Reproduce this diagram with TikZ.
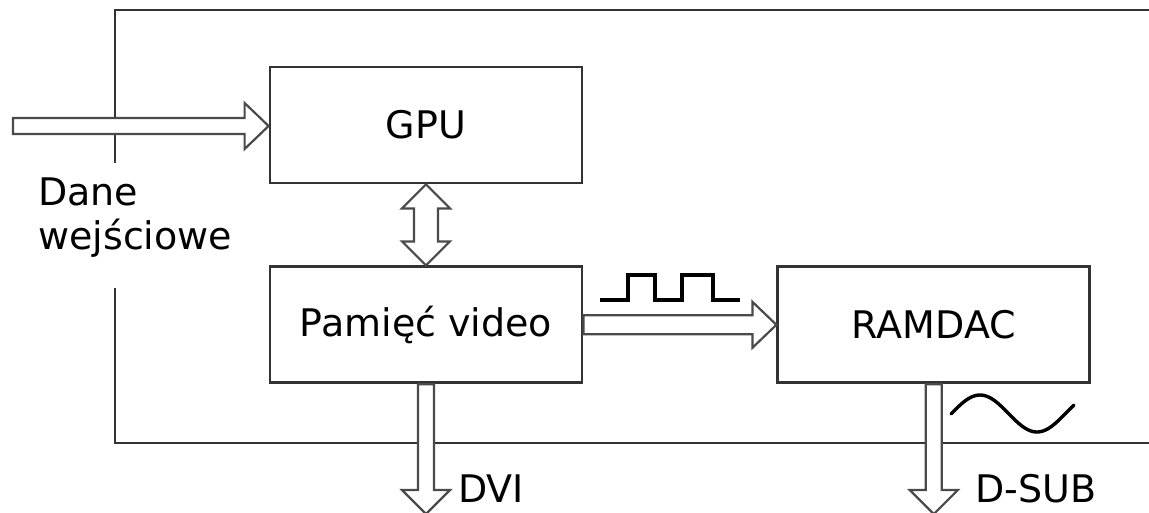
\documentclass[tikz,border=0pt]{standalone}
\usepackage{fontspec}
\setmainfont{DejaVu Sans}
\usepackage{tikz}
\usetikzlibrary{positioning,calc}
\definecolor{edge}{HTML}{333333}
\definecolor{arrowline}{HTML}{4A4A4A}
\tikzset{
  block/.style ={draw=edge,line width=2.8pt,fill=white,minimum width=312pt,
                 minimum height=116pt,inner sep=0pt,font=\blockfont},
  label/.style ={inner sep=0pt,font=\blockfont,align=left},
  frame/.style ={draw=edge,line width=2.8pt},
  hollow/.style={draw=arrowline,line width=2.2pt,fill=white,line join=miter},
  signal/.style={draw=black,line width=3.4pt}
}
\newcommand{\blockfont}{\fontsize{38}{44}\selectfont}
% thick hollow arrow pointing right, #3 = half shaft width
\newcommand{\fatright}[3]{%
  \draw[hollow] let \p1=(#1), \p2=(#2) in
    (\x1,\y1+#3) -- (\x2-24pt,\y1+#3) -- (\x2-24pt,\y1+23pt) -- (\x2,\y1)
    -- (\x2-24pt,\y1-23pt) -- (\x2-24pt,\y1-#3) -- (\x1,\y1-#3) -- cycle;}
% thick hollow arrow pointing down
\newcommand{\fatdown}[3]{%
  \draw[hollow] let \p1=(#1), \p2=(#2) in
    (\x1-#3,\y1) -- (\x1-#3,\y2+24pt) -- (\x1-24pt,\y2+24pt) -- (\x1,\y2)
    -- (\x1+24pt,\y2+24pt) -- (\x1+#3,\y2+24pt) -- (\x1+#3,\y1) -- cycle;}
% thick hollow arrow with a tip at both ends (vertical)
\newcommand{\fatboth}[3]{%
  \draw[hollow] let \p1=(#1), \p2=(#2) in
    (\x1,\y1) -- (\x1+24pt,\y1-24pt) -- (\x1+#3,\y1-24pt) -- (\x1+#3,\y2+24pt)
    -- (\x1+24pt,\y2+24pt) -- (\x1,\y2) -- (\x1-24pt,\y2+24pt) -- (\x1-#3,\y2+24pt)
    -- (\x1-#3,\y1-24pt) -- (\x1-24pt,\y1-24pt) -- cycle;}
\begin{document}
\begin{tikzpicture}[x=1pt,y=-1pt]
  \useasboundingbox (0,0) rectangle (1149,512);
  % card outline, open at the right
  \draw[frame] (1160,10) -- (115,10) -- (115,163);
  \draw[frame] (115,288) -- (115,443) -- (1160,443);
  % blocks
  \node[block] (gpu) at (426,125) {GPU};
  \node[block,below=81pt of gpu] (mem) {Pamięć video};
  \node[block,right=193pt of mem] (ram) {RAMDAC};
  \node[label,anchor=base west] (inlabel) at (38,249) {Dane\\wejściowe};
  \node[label,anchor=base west] (dvi) at (458,502) {DVI};
  \node[label,anchor=base west] (dsub) at (975,502) {D-SUB};
  \coordinate (in) at (13,126);
  \coordinate (dviout) at (mem.south |- 0,514);
  \coordinate (dsubout) at (ram.south |- 0,514);
  % data paths
  \fatright{in}{gpu.west}{8pt}
  \fatboth{gpu.south}{mem.north}{12pt}
  \fatright{mem.east}{ram.west}{9.5pt}
  \fatdown{mem.south}{dviout}{8pt}
  \fatdown{ram.south}{dsubout}{8pt}
  % digital and analog signal marks
  \draw[signal] (600,300) -- (628,300) -- (628,275) -- (655,275) -- (655,300)
    -- (682,300) -- (682,275) -- (713,275) -- (713,300) -- (740,300);
  \draw[signal,line cap=round] plot[domain=951:1074,samples=60,smooth]
    (\x,{413.5-18.5*cos(3.158*(\x-980))});
\end{tikzpicture}
\end{document}
